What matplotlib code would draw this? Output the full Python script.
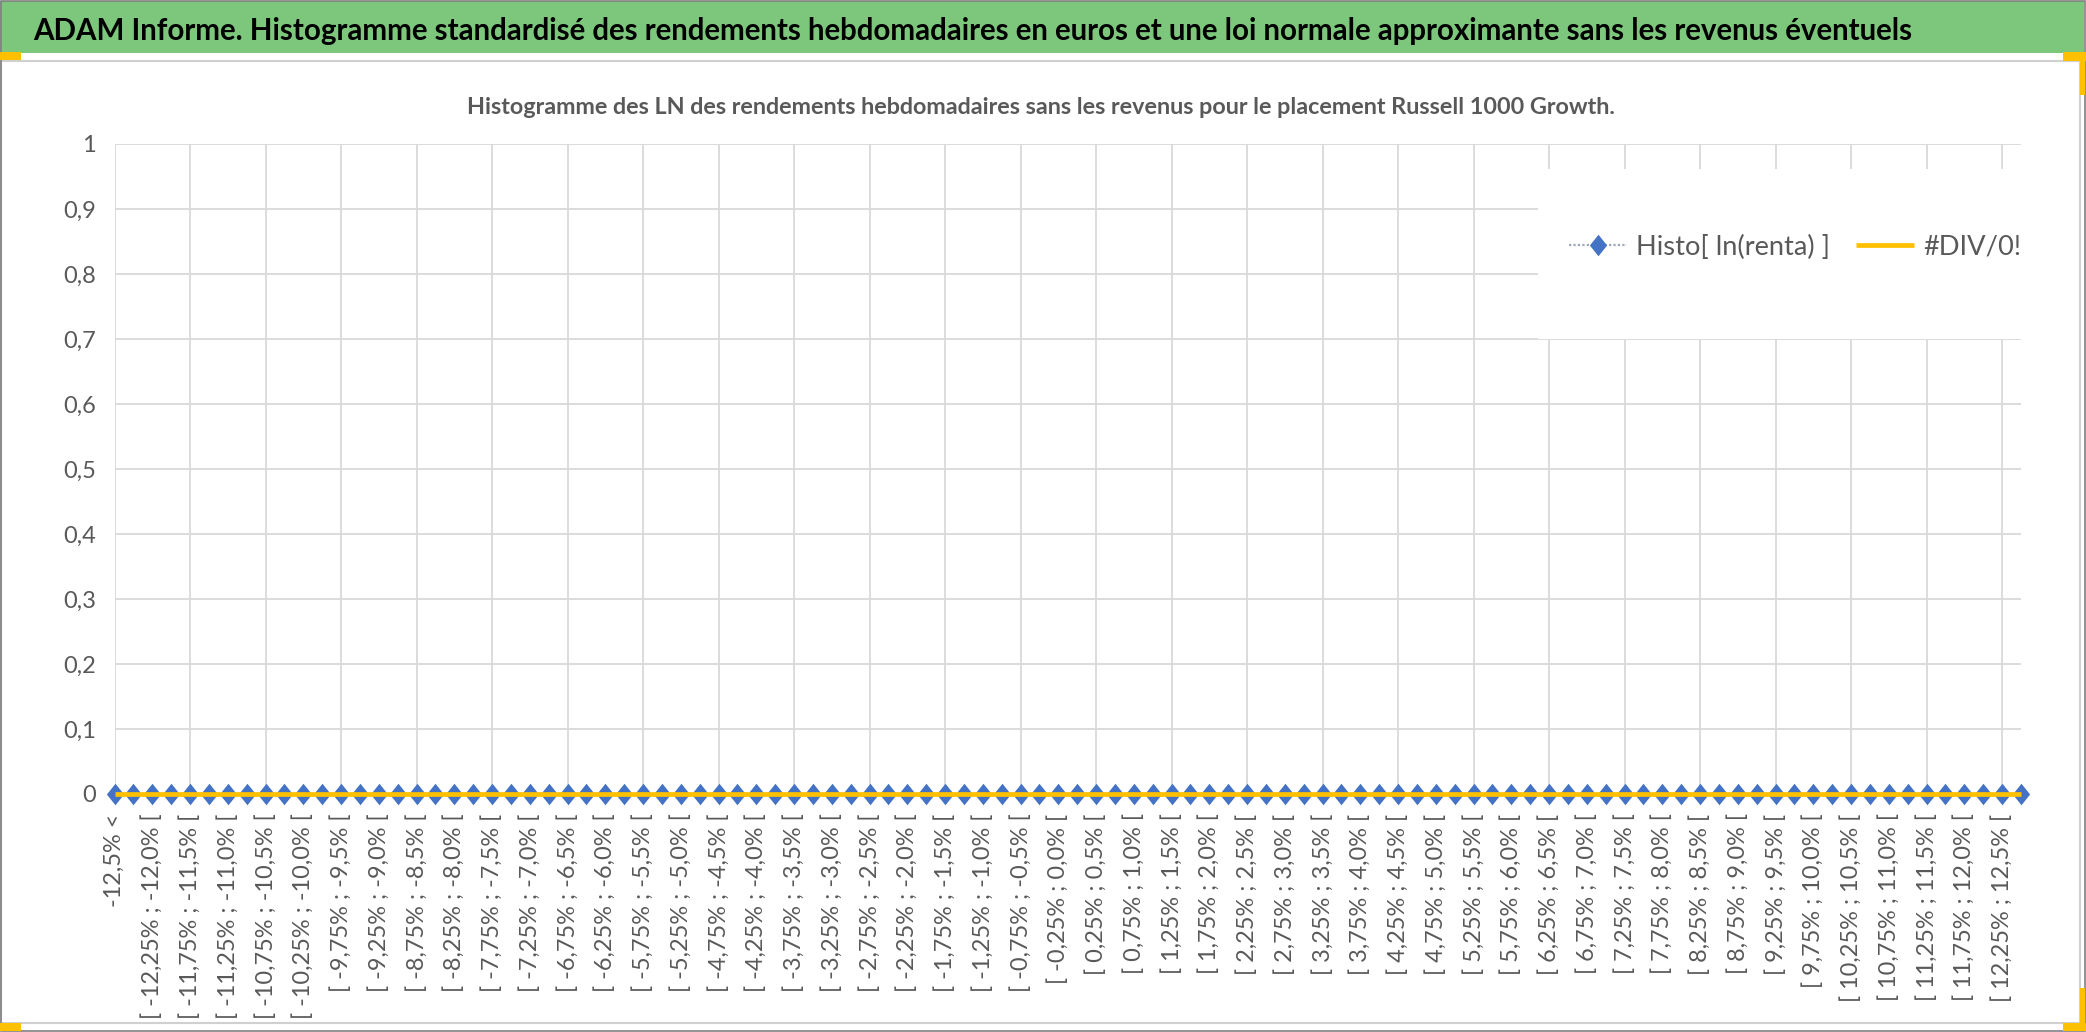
import matplotlib
matplotlib.use("Agg")
import matplotlib.pyplot as plt
from matplotlib.patches import Rectangle

## ------------------------------------------------------ DATA ------------------------------------------------------
#region

# bins of 0.25% between -12.5% and 12.5%, plus the two open-ended bins
lower_bounds = [round(-12.5 + 0.25 * k, 2) for k in range(100)]


def fr(v, d):
    return f"{v + 0.0:.{d}f}".replace(".", ",")


categories = (["-12,5% <"]
              + [f"[ {fr(lo, 2)}% ; {fr(round(lo + 0.25, 2), 1)}% [" for lo in lower_bounds]
              + ["12,5% <="])

# both series are flat at zero in the report (no data -> #DIV/0!)
histo = [0.0] * len(categories)
normal = [0.0] * len(categories)

y_ticks = [0, 0.1, 0.2, 0.3, 0.4, 0.5, 0.6, 0.7, 0.8, 0.9, 1]
y_labels = ["0", "0,1", "0,2", "0,3", "0,4", "0,5", "0,6", "0,7", "0,8", "0,9", "1"]

series_names = ["Histo[ ln(renta) ]", "#DIV/0!"]

BANNER = "ADAM Informe. Histogramme standardisé des rendements hebdomadaires en euros et une loi normale approximante sans les revenus éventuels"
SUBTITLE = "Histogramme des LN des rendements hebdomadaires sans les revenus pour le placement Russell 1000 Growth."

#endregion

## ----------------------------------------------------- STYLE ------------------------------------------------------
#region

W, H = 2086, 1032
BLUE = "#4472C4"
ORANGE = "#FFC000"
GREEN = "#7DC77D"
GRID = "#D9D9D9"
TEXT = "#595959"

plt.rcParams["font.family"] = ["Lato", "DejaVu Sans"]

#endregion

fig = plt.figure(figsize=(W / 100, H / 100), dpi=100)
renderer = fig.canvas.get_renderer()


def size_for(text, target_px, weight="normal", base=20.0):
    # font size giving the wanted rendered width in pixels
    t = fig.text(0, 0, text, fontsize=base, fontweight=weight)
    w = t.get_window_extent(renderer).width
    t.remove()
    return base * target_px / w


def rect_px(x0, y0, x1, y1, **kw):
    fig.patches.append(Rectangle((x0 / W, 1 - y1 / H), (x1 - x0) / W, (y1 - y0) / H,
                                 transform=fig.transFigure, figure=fig, **kw))


## ------------------------------------------------ FRAME / BANNER --------------------------------------------------
rect_px(0, 1, W - 2, 53, facecolor=GREEN, edgecolor="none", zorder=0)
rect_px(1, 61, 2080, 1023, facecolor="none", edgecolor="#D0D0D0", lw=1.5, zorder=1)
rect_px(0.5, 0.5, W - 1.5, H - 1, facecolor="none", edgecolor="#808080", lw=1.2, zorder=2)
for box in [(0, 52, 21, 60), (2063, 52, 2086, 61), (2080, 52, 2085, 95),
            (0, 1023, 21, 1031), (2080, 988, 2085, 1031), (2063, 1023, 2086, 1031)]:
    rect_px(*box, facecolor=ORANGE, edgecolor="none", zorder=3)

fig.text(33.5 / W, 1 - 40 / H, BANNER, fontsize=size_for(BANNER, 1885, "bold"),
         fontweight="bold", color="black", ha="left", va="baseline")
fig.text(1041 / W, 1 - 114 / H, SUBTITLE, fontsize=size_for(SUBTITLE, 1150, "bold"),
         fontweight="bold", color=TEXT, ha="center", va="baseline")

## ----------------------------------------------------- CHART ------------------------------------------------------
ax = fig.add_axes([114.5 / W, 1 - 794 / H, (2021 - 114.5) / W, (794 - 144) / H])
x = list(range(len(categories)))

diamond = [(0, 1.25), (1, 0), (0, -1.25), (-1, 0)]
l_histo, = ax.plot(x, histo, ls=(0, (1, 1)), lw=1.6, color="#9DA7B8", marker=diamond, ms=15.5,
                   mfc=BLUE, mec=BLUE, mew=0, clip_on=False, zorder=3, label=series_names[0])
l_norm, = ax.plot(x, normal, color=ORANGE, lw=3.4, solid_capstyle="butt", clip_on=False,
                  zorder=4, label=series_names[1])

ax.set_xlim(0, len(categories) - 1)
ax.set_ylim(0, 1)
ax.xaxis.remove_overlapping_locs = False
ax.set_xticks(x[::2])
ax.set_xticklabels(categories[::2], rotation=90, color=TEXT,
                   fontsize=size_for("[ -12,25% ; -12,0% [", 206))
ax.set_xticks(x[::4], minor=True)
ax.set_yticks(y_ticks)
ax.set_yticklabels(y_labels, color=TEXT, fontsize=17)
ax.tick_params(which="both", length=0)
ax.tick_params(axis="x", which="major", pad=14)
ax.tick_params(axis="y", pad=13.5)
ax.set_axisbelow(True)
ax.grid(axis="y", which="major", color=GRID, lw=1.3)
ax.grid(axis="x", which="minor", color=GRID, lw=1.3)
ax.grid(axis="x", which="major", visible=False)
for s in ax.spines.values():
    s.set_visible(False)

# white legend box over the gridlines
ax.add_patch(Rectangle((0.7466, 0.70), 0.2534, 0.262, transform=ax.transAxes,
                       facecolor="white", edgecolor="none", zorder=1))

leg_fs = size_for(series_names[0], 194)
leg_px = leg_fs * 100 / 72
ax.legend(handles=[l_histo, l_norm], loc="center left", bbox_to_anchor=(0.7629, 0.8415),
          ncol=2, frameon=False, borderpad=0, borderaxespad=0,
          handlelength=58 / leg_px, handletextpad=9 / leg_px, columnspacing=26 / leg_px,
          prop={"size": leg_fs}, labelcolor=TEXT)

fig.savefig("out.png", dpi=100)
plt.close(fig)
